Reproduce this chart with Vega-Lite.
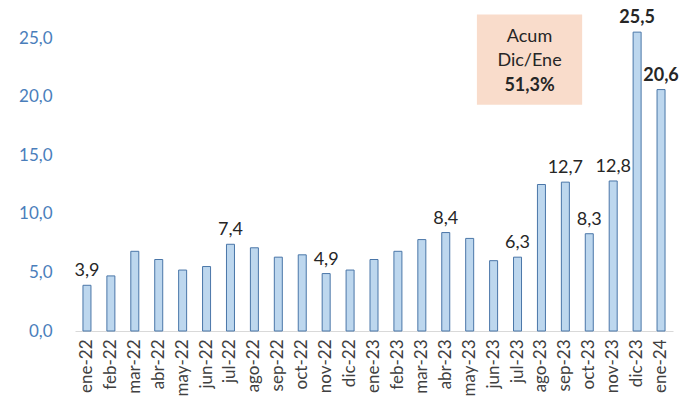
{
  "$schema": "https://vega.github.io/schema/vega-lite/v6.json",
  "autosize": "none",
  "width": 598,
  "height": 293,
  "padding": {"left": 75, "top": 38, "right": 22, "bottom": 74},
  "background": "white",
  "config": {
    "locale": {"number": {"decimal": ",", "thousands": ".", "grouping": [3], "currency": ["", "€"]}},
    "view": {"stroke": null},
    "font": "Lato"
  },
  "datasets": {
    "meses": [
      {"mes": "ene-22", "valor": 3.9},
      {"mes": "feb-22", "valor": 4.7},
      {"mes": "mar-22", "valor": 6.8},
      {"mes": "abr-22", "valor": 6.1},
      {"mes": "may-22", "valor": 5.2},
      {"mes": "jun-22", "valor": 5.5},
      {"mes": "jul-22", "valor": 7.4},
      {"mes": "ago-22", "valor": 7.1},
      {"mes": "sep-22", "valor": 6.3},
      {"mes": "oct-22", "valor": 6.5},
      {"mes": "nov-22", "valor": 4.9},
      {"mes": "dic-22", "valor": 5.2},
      {"mes": "ene-23", "valor": 6.1},
      {"mes": "feb-23", "valor": 6.8},
      {"mes": "mar-23", "valor": 7.8},
      {"mes": "abr-23", "valor": 8.4},
      {"mes": "may-23", "valor": 7.9},
      {"mes": "jun-23", "valor": 6.0},
      {"mes": "jul-23", "valor": 6.3},
      {"mes": "ago-23", "valor": 12.5},
      {"mes": "sep-23", "valor": 12.7},
      {"mes": "oct-23", "valor": 8.3},
      {"mes": "nov-23", "valor": 12.8},
      {"mes": "dic-23", "valor": 25.5},
      {"mes": "ene-24", "valor": 20.6}
    ],
    "nota": [
      {"mes": "jul-23", "top": 27.0, "bottom": 19.3}
    ],
    "notaTexto": [
      {"mes": "jul-23", "y": 25.1, "texto": "Acum"},
      {"mes": "jul-23", "y": 23.0, "texto": "Dic/Ene"}
    ],
    "notaTotal": [
      {"mes": "jul-23", "y": 20.9, "texto": "51,3%"}
    ]
  },
  "encoding": {
    "x": {
      "field": "mes", "type": "nominal", "sort": null,
      "scale": {
        "domain": ["ene-22","feb-22","mar-22","abr-22","may-22","jun-22","jul-22","ago-22","sep-22","oct-22","nov-22","dic-22","ene-23","feb-23","mar-23","abr-23","may-23","jun-23","jul-23","ago-23","sep-23","oct-23","nov-23","dic-23","ene-24"],
        "paddingInner": 0.0, "paddingOuter": 0
      },
      "axis": {
        "title": null, "labelAngle": -90, "labelFontSize": 17, "labelColor": "#404040",
        "ticks": false, "domainColor": "#D9D9D9", "domainWidth": 1, "labelPadding": 8,
        "labelBaseline": "middle", "labelAlign": "right"
      }
    }
  },
  "layer": [
    {
      "data": {"name": "nota"},
      "mark": {"type": "bar", "color": "#F9DCCB", "width": {"band": 4.4}, "xOffset": 12},
      "encoding": {
        "y": {"field": "top", "type": "quantitative"},
        "y2": {"field": "bottom"}
      }
    },
    {
      "data": {"name": "notaTexto"},
      "mark": {"type": "text", "fontSize": 18, "color": "#262626", "xOffset": 12, "baseline": "middle"},
      "encoding": {
        "y": {"field": "y", "type": "quantitative"},
        "text": {"field": "texto"}
      }
    },
    {
      "data": {"name": "notaTotal"},
      "mark": {"type": "text", "fontSize": 18, "fontWeight": "bold", "color": "#262626", "xOffset": 12, "baseline": "middle"},
      "encoding": {
        "y": {"field": "y", "type": "quantitative"},
        "text": {"field": "texto"}
      }
    },
    {
      "data": {"name": "meses"},
      "mark": {"type": "bar", "size": 8, "color": "#BDD7EE", "stroke": "#4A76A8", "strokeWidth": 1},
      "encoding": {
        "y": {
          "field": "valor", "type": "quantitative",
          "scale": {"domain": [0, 25], "nice": false},
          "axis": {
            "title": null, "values": [0, 5, 10, 15, 20, 25], "format": ".1f",
            "grid": false, "domain": false, "ticks": false, "labelPadding": 23,
            "labelFontSize": 17, "labelColor": "#4A7EBB"
          }
        }
      }
    },
    {
      "data": {"name": "meses"},
      "transform": [{"filter": {"field": "mes", "oneOf": ["ene-22", "jul-22", "nov-22", "abr-23", "jul-23", "sep-23", "oct-23", "nov-23"]}}],
      "mark": {"type": "text", "fontSize": 18, "color": "#262626", "baseline": "bottom", "dy": -5},
      "encoding": {
        "y": {"field": "valor", "type": "quantitative"},
        "text": {"field": "valor", "type": "quantitative", "format": ".1f"}
      }
    },
    {
      "data": {"name": "meses"},
      "transform": [{"filter": {"field": "mes", "oneOf": ["dic-23", "ene-24"]}}],
      "mark": {"type": "text", "fontSize": 18, "fontWeight": "bold", "color": "#262626", "baseline": "bottom", "dy": -5},
      "encoding": {
        "y": {"field": "valor", "type": "quantitative"},
        "text": {"field": "valor", "type": "quantitative", "format": ".1f"}
      }
    }
  ]
}
